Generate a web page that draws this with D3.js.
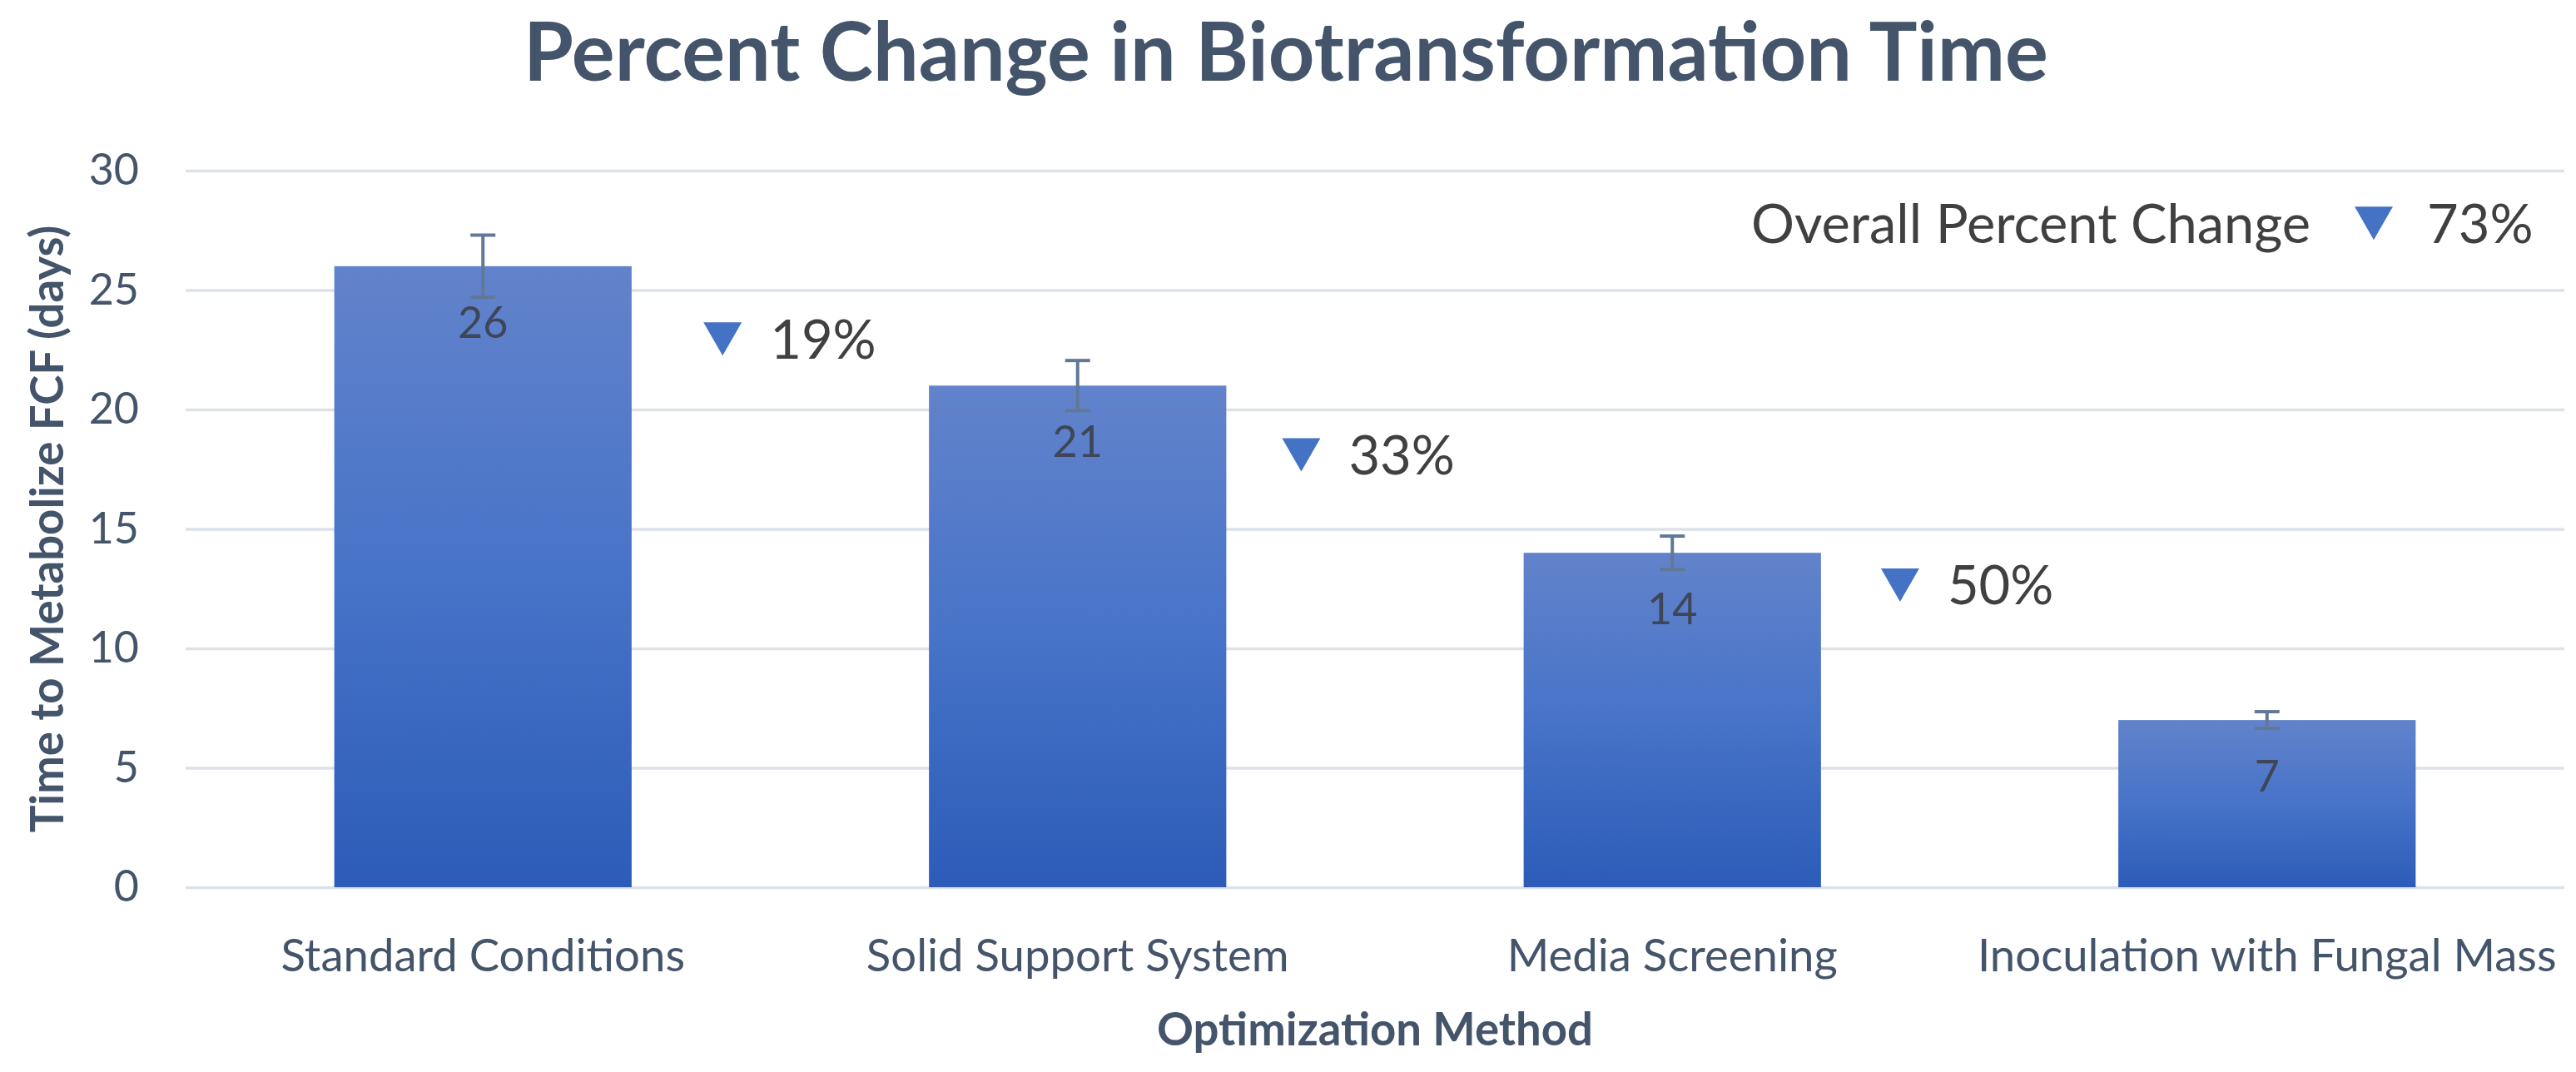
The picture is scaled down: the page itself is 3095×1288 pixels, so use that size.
<!DOCTYPE html>
<html><head><meta charset="utf-8">
<script src="https://cdn.jsdelivr.net/npm/d3@7/dist/d3.min.js"></script>
<style>body{margin:0;background:#fff}svg{display:block}</style>
</head><body>
<svg id="chart" width="3095" height="1288"></svg>
<script>
// ---- data ----
const categories = ["Standard Conditions", "Solid Support System", "Media Screening", "Inoculation with Fungal Mass"];
const values = [26, 21, 14, 7];
const errors = [1.3, 1.05, 0.7, 0.35];
const yTicks = [0, 5, 10, 15, 20, 25, 30];
const stepLabels = ["19%", "33%", "50%"];
const stepLevels = [22.95, 18.1, 12.65];
const overallText = "Overall Percent Change";
const overallLabel = "73%";
const overallLevel = 27.8;
const titleText = "Percent Change in Biotransformation Time";
const yTitle = "Time to Metabolize FCF (days)";
const xTitle = "Optimization Method";

// ---- layout ----
const W = 3095, H = 1288;
const M = {left: 223, right: 14, top: 205, bottom: 222};
const FONT = "Lato, 'Open Sans', sans-serif";
const stepOffsets = [0.403, 0.376, 0.383];

const svg = d3.select("#chart");
const x = d3.scaleBand().domain(categories).range([M.left, W - M.right]).paddingInner(0.5).paddingOuter(0.25);
const y = d3.scaleLinear().domain([0, 30]).range([H - M.bottom, M.top]);

const defs = svg.append("defs");
const grad = defs.append("linearGradient").attr("id", "barGrad").attr("x1", 0).attr("y1", 0).attr("x2", 0).attr("y2", 1);
grad.append("stop").attr("offset", 0).attr("stop-color", "#6283CB");
grad.append("stop").attr("offset", 0.5).attr("stop-color", "#4773C8");
grad.append("stop").attr("offset", 1).attr("stop-color", "#2C5CB8");

// gridlines
const yAxis = d3.axisLeft(y).tickValues(yTicks).tickSize(-(W - M.left - M.right)).tickPadding(56);
const gy = svg.append("g").attr("transform", `translate(${M.left},0)`).call(yAxis);
gy.select(".domain").remove();
gy.selectAll(".tick line").attr("stroke", "#DDE2E9").attr("stroke-width", 3.5);
gy.selectAll(".tick text").attr("font-family", FONT).attr("font-size", 52).attr("fill", "#44546A");

// x axis labels
const xAxis = d3.axisBottom(x).tickSize(0).tickPadding(62);
const gx = svg.append("g").attr("transform", `translate(0,${H - M.bottom})`).call(xAxis);
gx.select(".domain").remove();
gx.selectAll(".tick text").attr("font-family", FONT).attr("font-size", 54.5).attr("fill", "#44546A");

// bars
svg.append("g").selectAll("rect").data(values).join("rect")
  .attr("x", (d, i) => x(categories[i]))
  .attr("y", d => y(d))
  .attr("width", x.bandwidth())
  .attr("height", d => y(0) - y(d))
  .attr("fill", "url(#barGrad)");

// error bars
const eg = svg.append("g").attr("stroke", "#617896").attr("stroke-width", 4).attr("fill", "none");
values.forEach((v, i) => {
  const cx = x(categories[i]) + x.bandwidth() / 2;
  const cap = 15;
  eg.append("line").attr("x1", cx).attr("x2", cx).attr("y1", y(v + errors[i])).attr("y2", y(v - errors[i]));
  eg.append("line").attr("x1", cx - cap).attr("x2", cx + cap).attr("y1", y(v + errors[i])).attr("y2", y(v + errors[i]));
  eg.append("line").attr("x1", cx - cap).attr("x2", cx + cap).attr("y1", y(v - errors[i])).attr("y2", y(v - errors[i]));
});

// data labels
svg.append("g").selectAll("text").data(values).join("text")
  .attr("x", (d, i) => x(categories[i]) + x.bandwidth() / 2)
  .attr("y", d => y(d) + 86)
  .attr("text-anchor", "middle")
  .attr("font-family", FONT).attr("font-size", 52).attr("fill", "#3E4657")
  .text(d => d);

// step annotations
function tri(g, cx, cy) {
  g.append("path").attr("d", `M${cx - 23},${cy - 20}L${cx + 23},${cy - 20}L${cx},${cy + 20}Z`).attr("fill", "#4472C4");
}
const ag = svg.append("g");
stepLabels.forEach((lab, i) => {
  const cx = x(categories[i]) + x.bandwidth() / 2 + stepOffsets[i] * x.step();
  const cy = y(stepLevels[i]);
  tri(ag, cx, cy);
  ag.append("text").attr("x", cx + 57).attr("y", cy + 23.5)
    .attr("font-family", FONT).attr("font-size", 65).attr("fill", "#404040").text(lab);
});

// overall
{
  const cx = W - M.right - 229;
  const cy = y(overallLevel);
  tri(ag, cx, cy);
  ag.append("text").attr("x", cx - 76).attr("y", cy + 23.5).attr("text-anchor", "end")
    .attr("font-family", FONT).attr("font-size", 65).attr("fill", "#404040").text(overallText);
  ag.append("text").attr("x", cx + 64).attr("y", cy + 23.5)
    .attr("font-family", FONT).attr("font-size", 65).attr("fill", "#404040").text(overallLabel);
}

// titles
svg.append("text").attr("x", (M.left + W - M.right) / 2 - 107).attr("y", 97).attr("text-anchor", "middle")
  .attr("font-family", FONT).attr("font-weight", 700).attr("font-size", 97).attr("fill", "#44546A").text(titleText);
svg.append("text").attr("x", (M.left + W - M.right) / 2).attr("y", 1256).attr("text-anchor", "middle")
  .attr("font-family", FONT).attr("font-weight", 700).attr("font-size", 54.5).attr("fill", "#44546A").text(xTitle);
svg.append("text").attr("transform", `translate(76,${(y(0) + y(30)) / 2}) rotate(-90)`).attr("text-anchor", "middle")
  .attr("font-family", FONT).attr("font-weight", 700).attr("font-size", 54.5).attr("fill", "#44546A").text(yTitle);
</script>
</body></html>
